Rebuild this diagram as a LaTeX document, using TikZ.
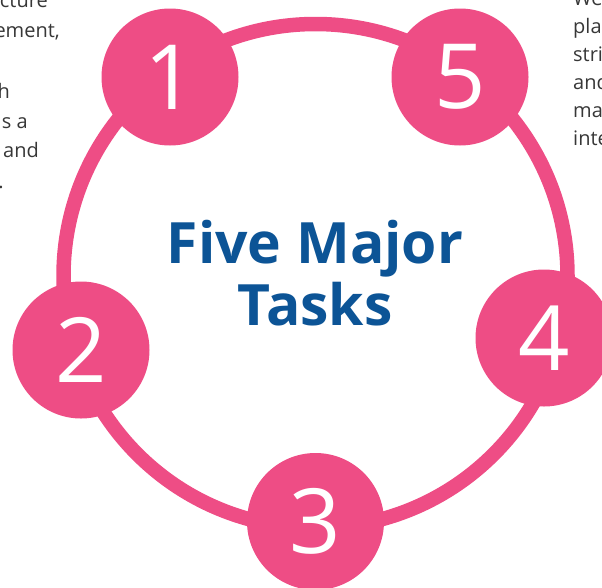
\documentclass[tikz,border=0pt]{standalone}
\usepackage{fontspec}
\setmainfont{Open Sans}
\usetikzlibrary{positioning}
\definecolor{taskpink}{RGB}{238,77,133}
\definecolor{taskblue}{RGB}{12,84,150}
\definecolor{sidegray}{RGB}{55,55,55}

\begin{document}
\begin{tikzpicture}[x=1pt,y=-1pt,
		task/.style={circle,fill=taskpink,minimum size=137pt,inner sep=0pt,text=white,font=\fontsize{90}{90}\selectfont},
		sidetext/.style={text=sidegray,font=\fontsize{20}{20}\selectfont,inner sep=0pt}
		]
		\useasboundingbox (0,0) rectangle (602,587);
		\clip (0,0) rectangle (602,587);
		% ring behind the five tasks
		\draw[taskpink,line width=14.5pt] (315.5,276) circle[radius=252];
		\node[task] (t1) at (170,77) {1};
		\node[task] (t2) at (81,350) {2};
		\node[task] (t3) at (315.5,521.5) {3};
		\node[task] (t4) at (544,338) {4};
		\node[task] (t5) at (460,77) {5};
		\node[align=center,text=taskblue,font=\fontsize{57}{62}\selectfont\bfseries] (title) at (315,273) {Five Major\\Tasks};
		% cut text at the edges
		\foreach \txt/\xx/\yy [count=\i] in {ucture/48/7,{ement,}/60/37,h/10/98,s a/28/128,and/39/157,./4/188}
		\node[sidetext,anchor=base east] (left\i) at (\xx,\yy) {\txt};
		\foreach \txt/\yy [count=\i] in {We/5,pla/33,stri/61,and/89,ma/117,inte/145}
		\node[sidetext,anchor=base west] (right\i) at (573,\yy) {\txt};
\end{tikzpicture}
\end{document}
